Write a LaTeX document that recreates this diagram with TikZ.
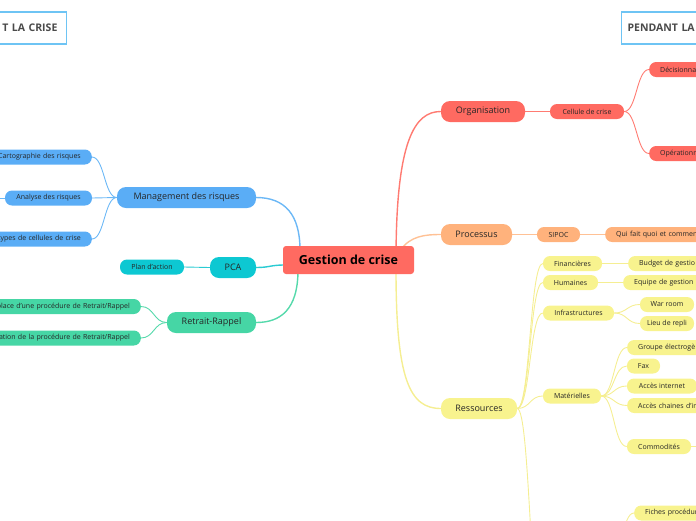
\documentclass[tikz,border=0pt]{standalone}
\usepackage{fontspec}
\setmainfont{Open Sans}
\usetikzlibrary{calc}
\pgfdeclarelayer{bg}
\pgfsetlayers{bg,main}
\definecolor{cred}{HTML}{FF6A61}
\definecolor{lred}{HTML}{FF7B72}
\definecolor{corange}{HTML}{FFB27C}
\definecolor{lorange}{HTML}{FFC195}
\definecolor{cyellow}{HTML}{F8F38E}
\definecolor{lyellow}{HTML}{F5EE92}
\definecolor{cblue}{HTML}{5AADF6}
\definecolor{lblue}{HTML}{6CB8F6}
\definecolor{ccyan}{HTML}{0DC8D2}
\definecolor{lcyan}{HTML}{2ACBD3}
\definecolor{cgreen}{HTML}{46D6A5}
\definecolor{lgreen}{HTML}{55D9AB}
\definecolor{ctext}{HTML}{262626}
\definecolor{ctitle}{HTML}{4A4A4A}
\definecolor{cframe}{HTML}{6EC4F4}
\tikzset{
  mainbox/.style={minimum height=21pt, inner sep=0pt, rounded corners=9pt, font=\fontsize{9}{10}\selectfont, text=ctext},
  subbox/.style={minimum height=15pt, inner sep=0pt, rounded corners=7pt, font=\fontsize{7}{8}\selectfont, text=ctext},
  cutleft/.style={anchor=east, inner xsep=11pt, text width=150pt, align=right},
  cutright/.style={anchor=west, inner xsep=11pt, text width=150pt, align=left},
  centralbox/.style={fill=cred, rounded corners=3pt, minimum width=131pt, minimum height=28pt, inner sep=0pt, font=\bfseries\fontsize{12.5}{14}\selectfont, text=black},
  titlebox/.style={draw=cframe, line width=1.2pt, fill=white, minimum height=32pt, inner ysep=0pt, font=\bfseries\fontsize{10.5}{12}\selectfont, text=ctitle},
  conn/.style={line width=1.4pt},
  subconn/.style={line width=0.9pt}
}
\begin{document}
\begin{tikzpicture}[x=1pt,y=-1pt]
\useasboundingbox (0,0) rectangle (696,520);
% titles
\node[titlebox, anchor=east, inner xsep=9pt, text width=150pt, align=right] (tl) at (67,28) {T LA CRISE};
\node[titlebox, anchor=west, inner xsep=6pt, text width=150pt, align=left] (tr) at (621,28) {PENDANT LA};
% central
\node[centralbox] (C) at (348.5,260) {Gestion de crise};
% left
\node[mainbox, fill=cblue, minimum width=139pt] (M) at (186.5,197.5) {Management des risques};
\node[subbox, fill=cblue, cutleft] (c1) at (92,157) {Cartographie des risques};
\node[subbox, fill=cblue, minimum width=87pt] (c2) at (48.5,198) {Analyse des risques};
\node[subbox, fill=cblue, cutleft] (c3) at (92,239) {types de cellules de crise};
\coordinate (c2l) at (-10,198);
\node[mainbox, fill=ccyan, minimum width=46pt] (pca) at (233,267.5) {PCA};
\node[subbox, fill=ccyan, minimum width=64pt] (plan) at (152,267) {Plan d'action};
\node[mainbox, fill=cgreen, minimum width=89pt] (R) at (211.5,322.5) {Retrait-Rappel};
\node[subbox, fill=cgreen, cutleft] (r1) at (141,306.5) {place d'une procédure de Retrait/Rappel};
\node[subbox, fill=cgreen, cutleft] (r2) at (141,338) {ation de la procédure de Retrait/Rappel};
% right
\node[mainbox, fill=cred, minimum width=84pt] (O) at (483,111.5) {Organisation};
\node[subbox, fill=cred, minimum width=74pt] (cel) at (587,111.5) {Cellule de crise};
\node[subbox, fill=cred, cutright] (dec) at (649,69.5) {Décisionna};
\node[subbox, fill=cred, cutright] (ope) at (649,153.5) {Opérationn};
\node[mainbox, fill=corange, minimum width=71pt] (P) at (476.5,234.5) {Processus};
\node[subbox, fill=corange, minimum width=43pt] (sipoc) at (558.5,234.5) {SIPOC};
\node[subbox, fill=corange, cutright] (qui) at (605,234.5) {Qui fait quoi et commen};
\node[mainbox, fill=cyellow, minimum width=76pt] (Res) at (479,408.5) {Ressources};
\node[subbox, fill=cyellow, minimum width=59pt] (fin) at (572.5,263.5) {Financières};
\node[subbox, fill=cyellow, cutright] (bud) at (628,263.5) {Budget de gestio};
\node[subbox, fill=cyellow, minimum width=55pt] (hum) at (570.5,282.5) {Humaines};
\node[subbox, fill=cyellow, cutright] (equ) at (623,282.5) {Equipe de gestion};
\node[subbox, fill=cyellow, minimum width=71pt] (inf) at (578.5,313) {Infrastructures};
\node[subbox, fill=cyellow, minimum width=54pt] (war) at (667,304.5) {War room};
\node[subbox, fill=cyellow, minimum width=54pt] (lieu) at (667,323.5) {Lieu de repli};
\node[subbox, fill=cyellow, minimum width=58pt] (mat) at (572,396) {Matérielles};
\node[subbox, fill=cyellow, cutright] (gro) at (627,347.5) {Groupe électrogè};
\node[subbox, fill=cyellow, minimum width=33pt] (fax) at (643.5,366) {Fax};
\node[subbox, fill=cyellow, minimum width=70pt] (acc) at (662,386) {Accès internet};
\node[subbox, fill=cyellow, cutright] (ach) at (627,405.5) {Accès chaines d'in};
\node[subbox, fill=cyellow, minimum width=64pt] (com) at (659,446.5) {Commodités};
\node[subbox, fill=cyellow, cutright] (fic) at (634,513) {Fiches procédur};
\coordinate (resb) at (543,630);
\coordinate (ficp) at (610,560);
\coordinate (comr) at (712,446.5);
\begin{pgfonlayer}{bg}
% main connectors
\draw[conn, lred] ($(C.center)+(47.5,0)$) .. controls +(0,-120) and +(-26,0) .. (O.west);
\draw[conn, lorange] ($(C.center)+(52,-10)$) .. controls +(10,-14) and +(-16,0) .. (P.west);
\draw[conn, lyellow] ($(C.center)+(47.5,10)$) .. controls +(0,110) and +(-31,0) .. (Res.west);
\draw[conn, lblue] ($(C.center)+(-48.5,-10)$) .. controls +(0,-35) and +(29,0) .. (M.east);
\draw[conn, lcyan] ($(C.west)+(2,5)$) .. controls +(-15,0) and +(14,0) .. (pca.east);
\draw[conn, lgreen] ($(C.center)+(-50.5,10)$) .. controls +(0,40) and +(24,0) .. (R.east);
% red
\draw[subconn, lred] (O.east) -- (cel.west);
\draw[subconn, lred] (cel.east) .. controls +(12.5,0) and +(-12.5,0) .. (dec.west);
\draw[subconn, lred] (cel.east) .. controls +(12.5,0) and +(-12.5,0) .. (ope.west);
% orange
\draw[subconn, lorange] (P.east) -- (sipoc.west);
\draw[subconn, lorange] (sipoc.east) -- (qui.west);
% yellow
\draw[subconn, lyellow] (Res.east) .. controls +(13,0) and +(-13,0) .. (fin.west);
\draw[subconn, lyellow] (Res.east) .. controls +(13,0) and +(-13,0) .. (hum.west);
\draw[subconn, lyellow] (Res.east) .. controls +(13,0) and +(-13,0) .. (inf.west);
\draw[subconn, lyellow] (Res.east) .. controls +(13,0) and +(-13,0) .. (mat.west);
\draw[subconn, lyellow] (Res.east) .. controls +(13,0) and +(-13,0) .. (resb);
\draw[subconn, lyellow] (fin.east) -- (bud.west);
\draw[subconn, lyellow] (hum.east) -- (equ.west);
\draw[subconn, lyellow] (inf.east) .. controls +(13,0) and +(-13,0) .. (war.west);
\draw[subconn, lyellow] (inf.east) .. controls +(13,0) and +(-13,0) .. (lieu.west);
\draw[subconn, lyellow] (mat.east) .. controls +(13,0) and +(-13,0) .. (gro.west);
\draw[subconn, lyellow] (mat.east) .. controls +(13,0) and +(-13,0) .. (fax.west);
\draw[subconn, lyellow] (mat.east) .. controls +(13,0) and +(-13,0) .. (acc.west);
\draw[subconn, lyellow] (mat.east) .. controls +(13,0) and +(-13,0) .. (ach.west);
\draw[subconn, lyellow] (mat.east) .. controls +(13,0) and +(-13,0) .. (com.west);
\draw[subconn, lyellow] (com.east) -- (comr);
\draw[subconn, lyellow] (ficp) .. controls +(12,0) and +(-12,0) .. (fic.west);
% blue
\draw[subconn, lblue] (M.west) .. controls +(-12.5,0) and +(12.5,0) .. (c1.east);
\draw[subconn, lblue] (M.west) -- (c2.east);
\draw[subconn, lblue] (M.west) .. controls +(-12.5,0) and +(12.5,0) .. (c3.east);
\draw[subconn, lblue] (c2.west) -- (c2l);
% cyan
\draw[subconn, lcyan] (pca.west) -- (plan.east);
% green
\draw[subconn, lgreen] (R.west) .. controls +(-13,0) and +(13,0) .. (r1.east);
\draw[subconn, lgreen] (R.west) .. controls +(-13,0) and +(13,0) .. (r2.east);
\end{pgfonlayer}
\end{tikzpicture}
\end{document}
